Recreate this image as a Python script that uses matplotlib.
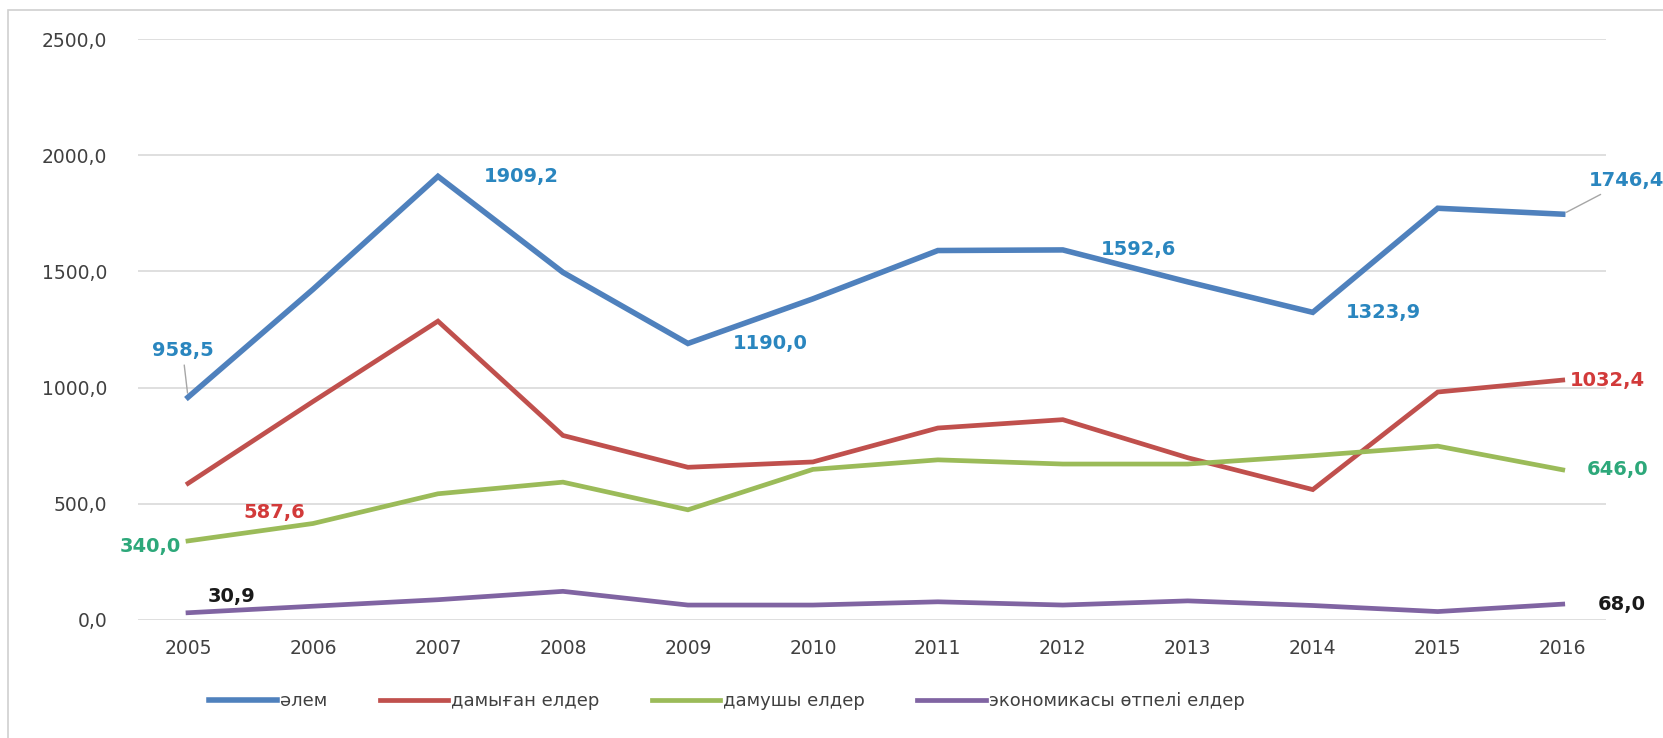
# Line chart: four country groups, 2005-2016
import matplotlib.pyplot as plt
from matplotlib.patches import Rectangle

plt.rcParams['font.family'] = ['DejaVu Sans']

# Data
years = ['2005', '2006', '2007', '2008', '2009', '2010',
         '2011', '2012', '2013', '2014', '2015', '2016']
alem = [958.5, 1423, 1909.2, 1496, 1190.0, 1382, 1590, 1592.6, 1455, 1323.9, 1772, 1746.4]
damygan = [587.6, 940, 1286, 794, 657, 680, 826, 862, 698, 561, 981, 1032.4]
damushy = [340.0, 415, 543, 593, 474, 648, 689, 671, 671, 707, 748, 646.0]
otpeli = [30.9, 59, 87, 123, 64, 64, 78, 64, 82, 62, 36, 68.0]
series_names = ['әлем', 'дамыған елдер', 'дамушы елдер', 'экономикасы өтпелі елдер']
y_ticks = [0, 500, 1000, 1500, 2000, 2500]

line_colors = ['#4F81BD', '#C0504D', '#9BBB59', '#8064A2']
label_colors = ['#2A86BF', '#D23A3A', '#2DA87A', '#1A1A1A']

fig = plt.figure(figsize=(16.63, 7.38), dpi=100)
ax = fig.add_axes([0.083, 0.16, 0.883, 0.787])

x = list(range(len(years)))
all_series = [alem, damygan, damushy, otpeli]
widths = [4.0, 3.4, 3.4, 3.4]
for vals, name, col, lw in zip(all_series, series_names, line_colors, widths):
    ax.plot(x, vals, color=col, linewidth=lw, label=name,
            solid_joinstyle='miter', zorder=3)

ax.set_xlim(-0.4, 11.35)
ax.set_ylim(0, 2500)
ax.set_yticks(y_ticks)
ax.set_yticklabels([f'{v:.1f}'.replace('.', ',') for v in y_ticks])
ax.set_xticks(x)
ax.set_xticklabels(years)
ax.tick_params(axis='y', length=0, pad=22, labelsize=13.5, labelcolor='#404040')
ax.tick_params(axis='x', length=0, pad=14, labelsize=13.5, labelcolor='#404040')
ax.grid(axis='y', color='#D9D9D9', linewidth=1.2)
ax.set_axisbelow(True)
for s in ax.spines.values():
    s.set_visible(False)


def fmt(v):
    return f'{v:.1f}'.replace('.', ',')


# data labels: (series index, point index, dx, dy in points, ha, leader line)
labels = [
    (0, 0, -4, 34, 'center', True),
    (0, 2, 33, 0, 'left', False),
    (0, 4, 32, 0, 'left', False),
    (0, 7, 27, 0, 'left', False),
    (0, 9, 24, 0, 'left', False),
    (0, 11, 46, 24, 'center', True),
    (1, 0, 40, -21, 'left', False),
    (1, 11, 5, 0, 'left', False),
    (2, 0, -5, -4, 'right', False),
    (2, 11, 17, 0, 'left', False),
    (3, 0, 14, 12, 'left', False),
    (3, 11, 25, 0, 'left', False),
]
for si, pi, dx, dy, ha, leader in labels:
    v = all_series[si][pi]
    arrow = dict(arrowstyle='-', color='#A6A6A6', lw=1, shrinkA=2, shrinkB=3) if leader else None
    ax.annotate(fmt(v), xy=(pi, v), xytext=(dx, dy), textcoords='offset points',
                ha=ha, va='center', fontsize=14, fontweight='bold',
                color=label_colors[si], annotation_clip=False, arrowprops=arrow)

fig.legend(loc='center', bbox_to_anchor=(0.437, 0.05), ncol=4, frameon=False,
           fontsize=13, handlelength=3.8, handletextpad=0.15, columnspacing=2.9,
           labelcolor='#404040')

# light frame around chart area
fig.patches.append(Rectangle((0.005, -0.02), 1.0, 1.006, transform=fig.transFigure,
                             fill=False, edgecolor='#D0D0D0', linewidth=1.2))

fig.savefig('out.png', dpi=100)
